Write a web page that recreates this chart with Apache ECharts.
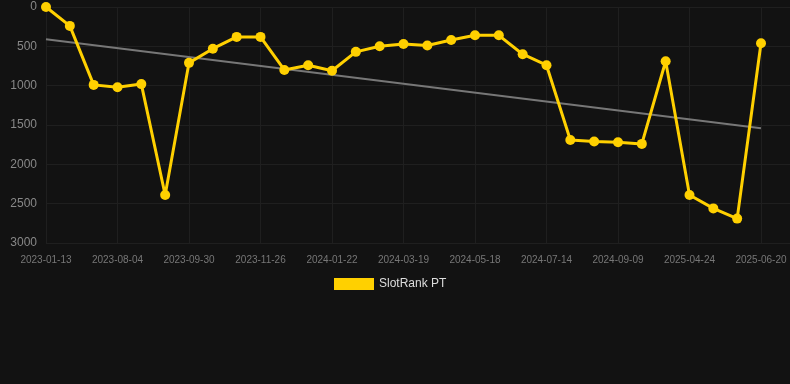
<!DOCTYPE html>
<html>
<head>
<meta charset="utf-8">
<script src="https://cdn.jsdelivr.net/npm/echarts@6/dist/echarts.min.js"></script>
<style>
html,body{margin:0;padding:0;background:#121212;}
#c{width:790px;height:384px;}
</style>
</head>
<body>
<div id="c"></div>
<script>
const categories = [
  '2023-01-13','2023-03-23','2023-06-10','2023-08-04','2023-08-23','2023-09-11',
  '2023-09-30','2023-10-19','2023-11-07','2023-11-26','2023-12-15','2024-01-03',
  '2024-01-22','2024-02-10','2024-02-29','2024-03-19','2024-04-08','2024-04-28',
  '2024-05-18','2024-06-06','2024-06-25','2024-07-14','2024-08-02','2024-08-21',
  '2024-09-09','2024-11-24','2025-02-08','2025-04-24','2025-05-13','2025-06-01',
  '2025-06-20'
];
const rankValues = [
  0, 240, 990, 1020, 980, 2390, 710, 530, 380, 380,
  800, 740, 810, 570, 500, 470, 490, 420, 360, 360,
  600, 740, 1690, 1710, 1720, 1740, 690, 2390, 2560, 2690,
  460
];
const trendStart = 410;
const trendEnd = 1540;
const seriesName = 'SlotRank PT';

const trendData = categories.map((c, i) => i === 0 ? trendStart : (i === categories.length - 1 ? trendEnd : null));

const chart = echarts.init(document.getElementById('c'));
chart.setOption({
  backgroundColor: '#121212',
  animation: false,
  grid: [
    { left: 46, right: 29, top: 7, bottom: 141 },
    { left: 46, right: 0, top: 7, bottom: 141 }
  ],
  legend: {
    data: [seriesName],
    top: 278,
    left: 334,
    itemWidth: 40,
    itemHeight: 12,
    itemGap: 10,
    icon: 'rect',
    textStyle: { color: '#dddddd', fontSize: 12, padding: [0, 0, 0, 0], fontFamily: 'Liberation Sans, Arial, sans-serif' },
    padding: 0
  },
  xAxis: [
    {
      type: 'category',
      data: categories,
      boundaryGap: false,
      gridIndex: 0,
      axisLine: { show: false },
      axisTick: { show: false },
      axisLabel: { interval: 2, color: '#777777', fontSize: 10, margin: 12, fontFamily: 'Liberation Sans, Arial, sans-serif' },
      splitLine: { show: true, interval: 2, lineStyle: { color: '#1f1f1f', width: 1 } }
    },
    {
      type: 'value',
      gridIndex: 1,
      show: false
    }
  ],
  yAxis: [
    {
      type: 'value',
      gridIndex: 0,
      inverse: true,
      min: 0,
      max: 3000,
      interval: 500,
      axisLine: { show: false },
      axisTick: { show: false },
      axisLabel: { color: '#888888', fontSize: 12, margin: 9, formatter: v => String(v), fontFamily: 'Liberation Sans, Arial, sans-serif' },
      splitLine: { show: false }
    },
    {
      type: 'value',
      gridIndex: 1,
      inverse: true,
      min: 0,
      max: 3000,
      interval: 500,
      axisLine: { show: false },
      axisTick: { show: false },
      axisLabel: { show: false },
      splitLine: { show: true, lineStyle: { color: '#1f1f1f', width: 1 } }
    }
  ],
  series: [
    {
      name: seriesName,
      type: 'line',
      data: rankValues,
      color: '#FFD000',
      symbol: 'circle',
      symbolSize: 10,
      lineStyle: { width: 3, color: '#FFD000' },
      itemStyle: { color: '#FFD000' },
      z: 3
    },
    {
      name: 'trend',
      type: 'line',
      data: trendData,
      connectNulls: true,
      symbol: 'none',
      lineStyle: { width: 2, color: '#777777' },
      z: 2,
      silent: true
    }
  ]
});
</script>
</body>
</html>
